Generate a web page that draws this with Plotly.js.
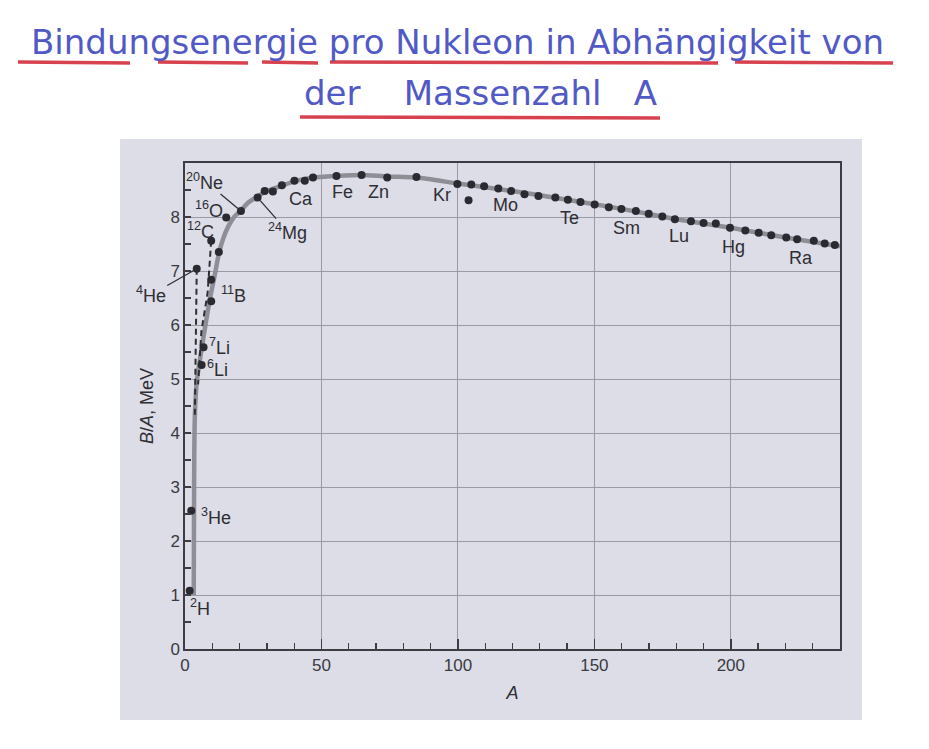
<!DOCTYPE html>
<html>
<head>
<meta charset="utf-8">
<script src="https://cdn.plot.ly/plotly-3.0.1.min.js"></script>
<style>html,body{margin:0;padding:0;background:#fff;}#chart{width:929px;height:749px;}</style>
</head>
<body>
<div id="chart"></div>
<script>
// ---- data ----
// measured nuclei (A, B/A in MeV)
const dotA = [1.7, 2.3, 6.1, 6.8, 4.3, 9.6, 9.6, 9.6, 12.4, 15.1, 20.5, 26.6, 29.2, 32.2, 35.5, 40.1, 43.9, 46.9,
  55.5, 64.7, 74.1, 84.8, 99.8, 104.9, 109.6, 103.9, 114.8, 119.5, 124.4, 129.5, 135.7, 140.3, 144.9, 150.1,
  155.3, 159.9, 165.2, 169.9, 174.9, 179.5, 185.4, 190.0, 194.5, 199.7, 205.3, 210.2, 214.8, 220.3, 224.3,
  230.4, 234.4, 238.1];
const dotB = [1.08, 2.56, 5.26, 5.59, 7.04, 6.44, 6.84, 7.56, 7.35, 7.99, 8.11, 8.36, 8.48, 8.47, 8.59, 8.67, 8.67, 8.73,
  8.76, 8.78, 8.73, 8.74, 8.61, 8.60, 8.57, 8.31, 8.53, 8.48, 8.42, 8.39, 8.36, 8.32, 8.28, 8.23,
  8.18, 8.15, 8.11, 8.06, 8.01, 7.96, 7.92, 7.89, 7.88, 7.80, 7.75, 7.71, 7.66, 7.62, 7.59,
  7.56, 7.51, 7.48];
// smooth trend curve
const curveA = [3.2, 3.3, 3.4, 3.6, 4.3, 5.6, 7.0, 9.0, 11.0, 12.4, 14.0, 16.0, 18.0, 20.5, 23.0, 26.6, 30.0, 35.5,
  40.0, 47.0, 55.5, 64.7, 74.0, 85.0, 100.0, 120.0, 140.0, 160.0, 180.0, 200.0, 220.0, 240.0];
const curveB = [1.0, 2.5, 3.6, 4.3, 4.95, 5.4, 5.85, 6.45, 6.95, 7.32, 7.6, 7.84, 8.0, 8.12, 8.26, 8.38, 8.48, 8.58,
  8.66, 8.73, 8.76, 8.78, 8.75, 8.73, 8.62, 8.48, 8.32, 8.15, 7.96, 7.80, 7.62, 7.46];
// dashed branches
const dash1A = [4.3, 4.1, 3.8, 3.6];
const dash1B = [7.04, 6.0, 5.0, 4.3];
const dash2A = [9.6, 8.3, 6.0, 4.8];
const dash2B = [7.56, 6.6, 5.88, 4.9];
// axes
const xTicks = [0, 50, 100, 150, 200];
const yTicks = [0, 1, 2, 3, 4, 5, 6, 7, 8];
// element labels
const labText = ['<sup>2</sup>H', '<sup>3</sup>He', '<sup>6</sup>Li', '<sup>7</sup>Li', '<sup>11</sup>B', '<sup>12</sup>C',
  '<sup>16</sup>O', 'Ca', 'Fe', 'Zn', 'Kr', 'Mo', 'Te', 'Sm', 'Lu', 'Hg', 'Ra'];
const labA = [1.0, 5.0, 7.5, 8.0, 12.6, 0.0, 3.0, 37.5, 53.0, 66.5, 90.0, 112.0, 136.5, 156.0, 176.5, 196.0, 220.5];
const labB = [0.76, 2.45, 5.2, 5.6, 6.57, 7.75, 8.14, 8.34, 8.47, 8.47, 8.41, 8.22, 7.98, 7.79, 7.64, 7.44, 7.25];
// labels with leader lines
const leadText = ['<sup>4</sup>He', '<sup>20</sup>Ne', '<sup>24</sup>Mg'];
const leadA = [4.3, 20.5, 26.6];
const leadB = [7.04, 8.11, 8.36];

// ---- layout helpers (pixel -> paper) ----
const L = 185, R = 840, T = 163, Bm = 649;
const X = px => (px - L) / (R - L);
const Y = py => (Bm - py) / (Bm - T);

const ink = '#2e2e33';
const fontLab = {family: 'Liberation Sans, Arial, sans-serif', size: 18, color: ink};

const traces = [
  {x: curveA, y: curveB, mode: 'lines', line: {color: '#8e8e96', width: 4.5, shape: 'spline', smoothing: 0.6},
   hoverinfo: 'skip', showlegend: false},
  {x: dash1A, y: dash1B, mode: 'lines', line: {color: ink, width: 2, dash: '6px,4px'}, showlegend: false},
  {x: dash2A, y: dash2B, mode: 'lines', line: {color: ink, width: 2, dash: '6px,4px'}, showlegend: false},
  {x: dotA, y: dotB, mode: 'markers', marker: {color: '#2a2a30', size: 8}, showlegend: false}
];

const annotations = [];
labText.forEach((t, i) => annotations.push({x: labA[i], y: labB[i], xref: 'x', yref: 'y', text: t,
  showarrow: false, xanchor: 'left', yanchor: 'middle', font: fontLab}));
const offs = [[-46, 26], [-36, -30], [30, 34]];
leadText.forEach((t, i) => annotations.push({x: leadA[i], y: leadB[i], xref: 'x', yref: 'y', text: t,
  showarrow: true, arrowhead: 0, arrowwidth: 1.3, arrowcolor: ink, standoff: 4,
  ax: offs[i][0], ay: offs[i][1], font: fontLab}));
// handwritten title
const hand = {family: 'DejaVu Sans, sans-serif', size: 34, color: '#5159c6'};
annotations.push({xref: 'paper', yref: 'paper', x: X(457), y: Y(42), text: 'Bindungsenergie pro Nukleon in Abhängigkeit von',
  showarrow: false, xanchor: 'center', yanchor: 'middle', font: hand});
annotations.push({xref: 'paper', yref: 'paper', x: X(480), y: Y(93), text: 'der    Massenzahl   A',
  showarrow: false, xanchor: 'center', yanchor: 'middle', font: hand});

const shapes = [
  {type: 'rect', xref: 'paper', yref: 'paper', x0: X(120), x1: X(862), y0: Y(720), y1: Y(139),
   fillcolor: '#dcdde7', line: {width: 0}, layer: 'below'}
];
const red = '#d8424f';
[[18, 130], [158, 248], [262, 318], [330, 718], [735, 893]].forEach(s => shapes.push({type: 'line', xref: 'paper', yref: 'paper',
  x0: X(s[0]), x1: X(s[1]), y0: Y(62), y1: Y(63), line: {color: red, width: 3.5}}));
shapes.push({type: 'line', xref: 'paper', yref: 'paper', x0: X(300), x1: X(660), y0: Y(117), y1: Y(118),
  line: {color: red, width: 3.5}});

const axisCommon = {
  showline: true, linecolor: '#3c3c42', linewidth: 1.6, mirror: true,
  showgrid: true, gridcolor: '#9a9aa4', gridwidth: 1, zeroline: false,
  ticks: 'inside', tickcolor: '#3c3c42', tickwidth: 1.4,
  tickfont: {family: 'Liberation Sans, Arial, sans-serif', size: 17, color: '#3a3a40'}
};

const layout = {
  width: 929, height: 749,
  margin: {l: L, r: 929 - R, t: T, b: 749 - Bm},
  paper_bgcolor: '#ffffff', plot_bgcolor: '#dcdde7',
  showlegend: false,
  xaxis: Object.assign({}, axisCommon, {range: [0, 240], tickmode: 'array', tickvals: xTicks, ticklen: 10,
    minor: {ticks: 'inside', dtick: 10, tick0: 0, ticklen: 6, tickcolor: '#3c3c42', tickwidth: 1.3, showgrid: false},
    title: {text: '<i>A</i>', font: {family: 'Liberation Sans, Arial, sans-serif', size: 18, color: ink}, standoff: 12}}),
  yaxis: Object.assign({}, axisCommon, {range: [0, 9], tickmode: 'array', tickvals: yTicks, ticklen: 6,
    minor: {ticks: 'inside', dtick: 0.5, tick0: 0, ticklen: 6, tickcolor: '#3c3c42', tickwidth: 1.3, showgrid: false},
    title: {text: '<i>B</i>/<i>A</i>, MeV', font: {family: 'Liberation Sans, Arial, sans-serif', size: 18, color: ink}, standoff: 12}}),
  annotations: annotations,
  shapes: shapes
};

Plotly.newPlot('chart', traces, layout, {displayModeBar: false, staticPlot: true});
</script>
</body>
</html>
